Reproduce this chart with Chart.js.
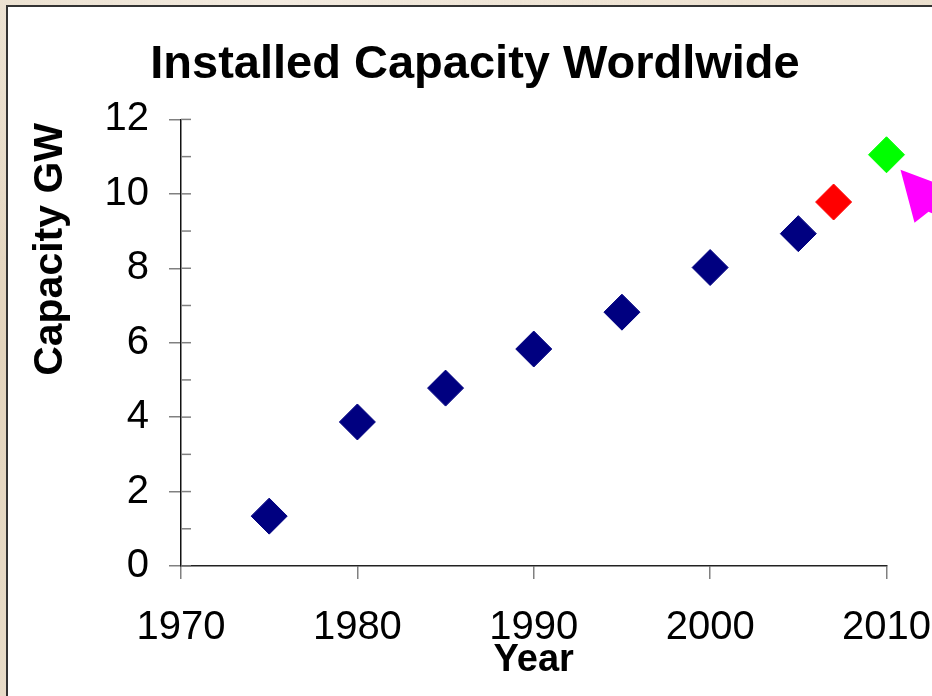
<!DOCTYPE html>
<html>
<head>
<meta charset="utf-8">
<script src="https://cdn.jsdelivr.net/npm/chart.js@4.4.1/dist/chart.umd.min.js"></script>
<style>
  html, body { margin: 0; padding: 0; width: 932px; height: 696px; overflow: hidden; }
  body {
    background:
      radial-gradient(ellipse at 30% 0%, #f3ebe0 0%, rgba(243,235,224,0) 40%),
      radial-gradient(ellipse at 70% 0%, #efe4d4 0%, rgba(239,228,212,0) 35%),
      linear-gradient(180deg, #eadfcd 0%, #e3d4bd 50%, #e8dcc8 100%);
  }
  #panel {
    position: absolute; left: 6px; top: 5px; width: 960px; height: 700px;
    background: #ffffff; border-left: 2px solid #333; border-top: 2px solid #333;
  }
  #wrap { position: absolute; left: 0; top: 0; width: 956px; height: 696px; }
</style>
</head>
<body>
<div id="panel"></div>
<div id="wrap"><canvas id="c" width="956" height="696"></canvas></div>
<script>
// ---- data ----
const navyYears = [1975, 1980, 1985, 1990, 1995, 2000, 2005];
const navyCapacity = [1.34, 3.87, 4.78, 5.83, 6.82, 8.02, 8.93];
const redYears = [2007];
const redCapacity = [9.78];
const greenYears = [2010];
const greenCapacity = [11.05];
const xTickValues = [1970, 1980, 1990, 2000, 2010];
const yTickValues = [0, 2, 4, 6, 8, 10, 12];
const yMinorValues = [0, 1, 2, 3, 4, 5, 6, 7, 8, 9, 10, 11, 12];
const chartTitle = 'Installed Capacity Wordlwide';
const xTitle = 'Year';
const yTitle = 'Capacity GW';

const toPoints = (xs, ys) => xs.map((x, i) => ({ x: x, y: ys[i] }));

const FONT = "'Liberation Sans', Arial, sans-serif";
Chart.defaults.font.family = FONT;
Chart.defaults.color = '#000';

const PAD_LEFT = -6;
const AXIS_X = 181;

const decorPlugin = {
  id: 'decor',
  afterDraw(chart) {
    const ctx = chart.ctx;
    const ya = chart.scales.y;
    const area = chart.chartArea;
    ctx.save();
    // inner ticks on y axis
    ctx.strokeStyle = '#808080';
    ctx.lineWidth = 1.5;
    yMinorValues.forEach(v => {
      const py = ya.getPixelForValue(v);
      ctx.beginPath();
      ctx.moveTo(area.left, py);
      ctx.lineTo(area.left + 10, py);
      ctx.stroke();
    });
    // axis titles
    ctx.fillStyle = '#000';
    ctx.font = "bold 41px " + FONT;
    ctx.textAlign = 'center';
    ctx.textBaseline = 'alphabetic';
    ctx.save();
    ctx.translate(area.left - 119, area.top + 130);
    ctx.rotate(-Math.PI / 2);
    ctx.fillText(yTitle, 0, 0);
    ctx.restore();
    ctx.font = "bold 38px " + FONT;
    ctx.fillText(xTitle, (area.left + area.right) / 2, area.bottom + 105);
    // arrow pointing at the green point
    const meta = chart.getDatasetMeta(2);
    const g = meta.data[0];
    if (g) {
      const gx = g.x, gy = g.y;
      ctx.fillStyle = '#ff00ff';
      ctx.beginPath();
      ctx.moveTo(gx + 14, gy + 15);
      ctx.lineTo(gx + 140, gy + 62);
      ctx.lineTo(gx + 140, gy + 100);
      ctx.lineTo(gx + 42, gy + 57);
      ctx.lineTo(gx + 28, gy + 68);
      ctx.closePath();
      ctx.fill();
    }
    ctx.restore();
  }
};

new Chart(document.getElementById('c'), {
  type: 'scatter',
  data: {
    datasets: [
      { data: toPoints(navyYears, navyCapacity), backgroundColor: '#000080', borderColor: '#000080' },
      { data: toPoints(redYears, redCapacity), backgroundColor: '#ff0000', borderColor: '#ff0000' },
      { data: toPoints(greenYears, greenCapacity), backgroundColor: '#00ff00', borderColor: '#00ff00' }
    ].map(d => Object.assign(d, { pointStyle: 'rectRot', pointRadius: 18, borderWidth: 1, clip: false }))
  },
  options: {
    responsive: false,
    animation: false,
    events: [],
    layout: { padding: { left: PAD_LEFT, right: 0, top: 0, bottom: 0 } },
    plugins: {
      legend: { display: false },
      tooltip: { enabled: false },
      title: {
        display: true,
        text: chartTitle,
        font: { size: 47, weight: 'bold' },
        color: '#000',
        padding: { top: 37, bottom: 26 }
      }
    },
    scales: {
      x: {
        type: 'linear',
        min: 1970, max: 2010,
        afterBuildTicks: s => { s.ticks = xTickValues.map(v => ({ value: v })); },
        afterFit: s => { s.height = 130; },
        ticks: { font: { size: 40 }, color: '#000', padding: 25, maxRotation: 0, callback: v => String(v) },
        grid: { drawOnChartArea: false, drawTicks: true, tickLength: 13, color: '#808080', lineWidth: 1.5 },
        border: { display: true, color: '#222', width: 1.5 }
      },
      y: {
        type: 'linear',
        min: 0, max: 12,
        afterBuildTicks: s => { s.ticks = yTickValues.map(v => ({ value: v })); },
        afterFit: s => { s.width = AXIS_X - PAD_LEFT; },
        ticks: { font: { size: 40 }, color: '#000', padding: 20, callback: v => String(v) },
        grid: { drawOnChartArea: false, drawTicks: true, tickLength: 12, color: '#808080', lineWidth: 1.5 },
        border: { display: true, color: '#111', width: 1.5 }
      }
    }
  },
  plugins: [decorPlugin]
});
</script>
</body>
</html>
